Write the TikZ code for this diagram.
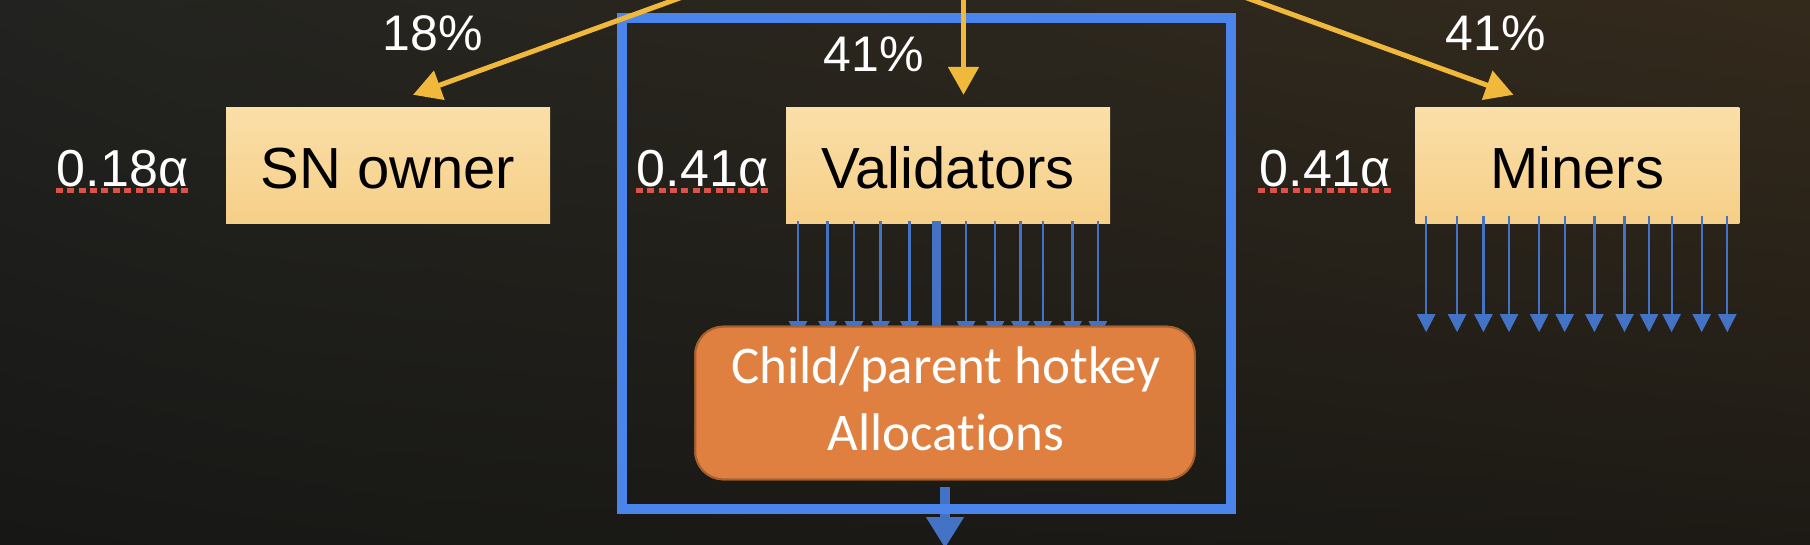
\documentclass[tikz,border=0pt]{standalone}
\usepackage{fontspec}
\setmainfont{Liberation Sans}
\newfontfamily\calib[Ligatures={NoCommon}]{Carlito}
\usetikzlibrary{arrows.meta,shadings}
\definecolor{bgUL}{HTML}{222320}
\definecolor{bgUR}{HTML}{342A1C}
\definecolor{bgLL}{HTML}{171816}
\definecolor{bgLR}{HTML}{1D1A15}
\definecolor{boxTop}{HTML}{FADFA8}
\definecolor{boxBot}{HTML}{F6CF88}
\definecolor{gold}{HTML}{F1B93B}
\definecolor{frameblue}{HTML}{4B85EC}
\definecolor{arrowblue}{HTML}{4472C4}
\definecolor{allocfill}{HTML}{DF8040}
\definecolor{allocedge}{HTML}{A8602E}
\definecolor{squig}{HTML}{DA5248}
\tikzset{
  rolebox/.style={top color=boxTop, bottom color=boxBot, draw=none,
    minimum width=324pt, minimum height=116pt, inner sep=0pt,
    text height=50pt, text depth=4pt, text=black,
    font=\fontsize{58}{60}\selectfont},
  share/.style={text=white, inner sep=0pt, anchor=base,
    font=\fontsize{52}{54}\selectfont},
  pct/.style={text=white, inner sep=0pt, anchor=base,
    font=\fontsize{50}{52}\selectfont},
  squiggle/.style={draw=squig, line width=5pt, dash pattern=on 7pt off 4.4pt},
  goldarrow/.style={draw=gold, line width=5pt, -{Triangle[length=28pt,width=30pt]}},
  thinarrow/.style={draw=arrowblue, line width=2.2pt, -{Triangle[length=18pt,width=18pt]}},
  fatbar/.style={draw=arrowblue, line width=9pt},
  outarrow/.style={draw=arrowblue, line width=10pt, -{Triangle[length=31pt,width=36pt]}},
  groupframe/.style={draw=frameblue, line width=10pt, inner sep=0pt,
    minimum width=608.7pt, minimum height=490.4pt},
  allocbox/.style={fill=allocfill, draw=allocedge, line width=2pt,
    rounded corners=28pt, minimum width=499.5pt, minimum height=152.6pt, inner sep=0pt},
  alloctext/.style={text=white, inner sep=0pt, align=center,
    font=\calib\fontsize{53}{66.7}\selectfont},
}
\begin{document}
\begin{tikzpicture}[x=1pt,y=-1pt]
  \useasboundingbox (0,0) rectangle (1810,544);
  \clip (0,0) rectangle (1810,544);
  \shade[upper left=bgUL, upper right=bgUR, lower left=bgLL, lower right=bgLR]
    (0,0) rectangle (1810,544);

  % out arrow (below the frame)
  \coordinate (outend) at (945,548);

  % boxes
  \node[rolebox] (sn)  at (388,165)    {SN owner};
  \node[rolebox] (val) at (948,165)    {Validators};
  \node[rolebox] (min) at (1577.3,165) {Miners};

  \node[allocbox] (alloc) at (945,403) {};

  \draw[outarrow] ([yshift=-7pt]alloc.south) -- (outend);

  % group frame
  \node[groupframe] (grp) at (926.35,263.5) {};

  % validators fan-out
  \foreach \d in {-150,-120.5,-94,-67.5,-38.5,18,47,72.5,94.7,124.5,149.8}{
    \draw[thinarrow] ([xshift=\d pt,yshift=2pt]val.south) -- ++(0,118);
  }
  \draw[fatbar] ([xshift=-12pt,yshift=2pt]val.south) -- ([xshift=-9pt]alloc.north);

  % allocation box on top of arrow heads
  \node[allocbox] (alloc2) at (alloc.center) {};
  \node[alloctext, anchor=base] (alloctxt) at (946,450) {Child/parent hotkey\\Allocations};

  % miners fan-out
  \foreach \d in {-151.1,-120.2,-93.9,-68.3,-38.2,-12.6,17.1,47.2,71.7,94.3,124.4,150}{
    \draw[thinarrow] ([xshift=\d pt,yshift=7pt]min.south) -- ++(0,116);
  }

  % share labels
  \node[share] (s1) at (122.6,186)  {0.18α};
  \node[share] (s2) at (702.6,186)  {0.41α};
  \node[share] (s3) at (1325.3,186) {0.41α};
  \foreach \s in {s1,s2,s3}{
    \draw[squiggle] ([xshift=-1pt,yshift=-4pt]\s.base west) -- ([xshift=3pt,yshift=-4pt]\s.base east);
  }

  % percentages
  \node[pct] (p1) at (433,50)     {18\%};
  \node[pct] (p2) at (873.6,71.7) {41\%};
  \node[pct] (p3) at (1495.6,50)  {41\%};

  % emission source (off-picture) and gold arrows
  \coordinate (src) at (963.5,-105);
  \draw[goldarrow] (src) -- ([xshift=25pt,yshift=12pt]sn.north);
  \draw[goldarrow] (src) -- ([xshift=15.5pt,yshift=12pt]val.north);
  \draw[goldarrow] (src) -- ([xshift=-63.8pt,yshift=12pt]min.north);
\end{tikzpicture}
\end{document}
